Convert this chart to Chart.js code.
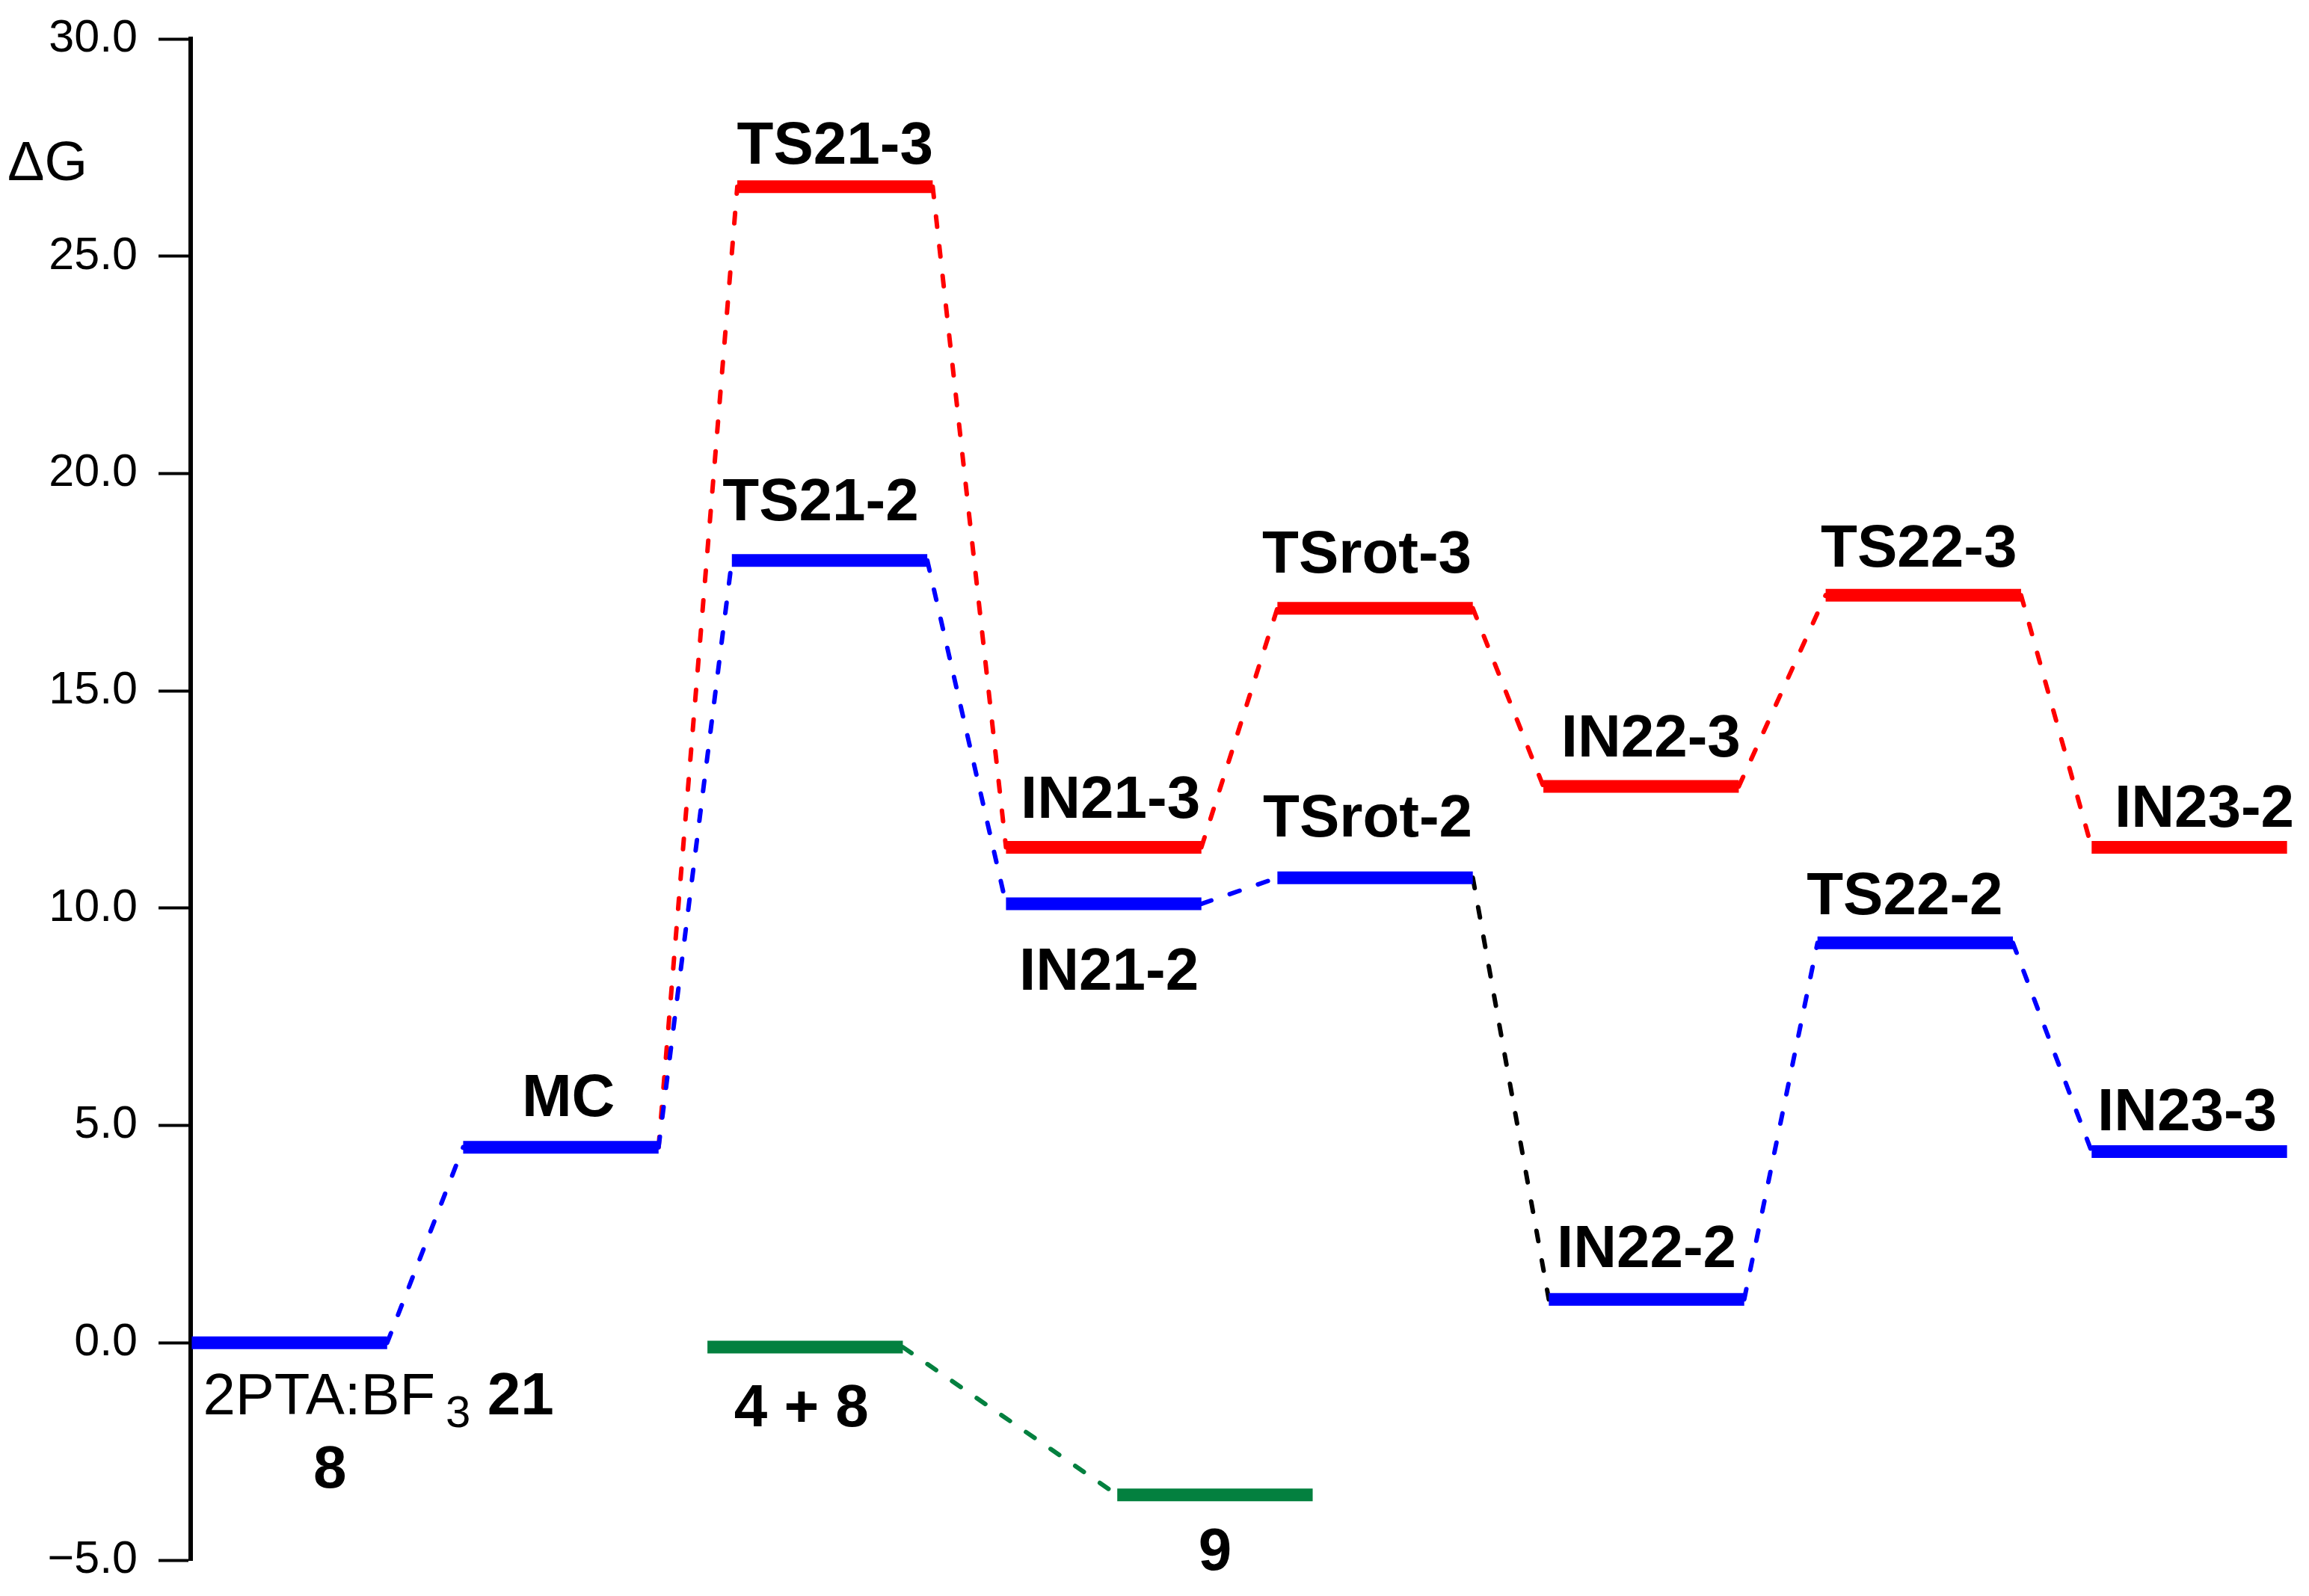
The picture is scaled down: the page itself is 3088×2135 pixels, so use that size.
<!DOCTYPE html>
<html>
<head>
<meta charset="utf-8">
<title>Perfil de energía libre</title>
<script src="https://cdn.jsdelivr.net/npm/chart.js@4.4.1/dist/chart.umd.min.js"></script>
<style>
  html, body { margin: 0; padding: 0; background: #fff; overflow: hidden; }
  #wrap { width: 3088px; height: 2135px; position: relative; }
</style>
</head>
<body>
<div id="wrap"><canvas id="profile"></canvas></div>
<script>
const levelNames  = ['2PTA:BF3 21', 'MC', '4 + 8', 'TS21-3', 'TS21-2', 'IN21-3', 'IN21-2', '9',
                     'TSrot-3', 'TSrot-2', 'IN22-3', 'IN22-2', 'TS22-3', 'TS22-2', 'IN23-2', 'IN23-3'];
const levelStep   = [0, 1, 1.9, 2.01, 1.99, 3, 3, 3.41, 4, 4, 4.98, 5, 6.02, 5.99, 7, 7];
const levelEnergy = [0.0, 4.5, -0.1, 26.6, 18.0, 11.4, 10.1, -3.5, 16.9, 10.7, 12.8, 1.0, 17.2, 9.2, 11.4, 4.4];

// Caminos de reacción (conexiones punteadas)
const bluePath  = ['2PTA:BF3 21', 'MC', 'TS21-2', 'IN21-2', 'TSrot-2'];
const blackPath = ['TSrot-2', 'IN22-2'];
const bluePath2 = ['IN22-2', 'TS22-2', 'IN23-3'];
const redPath   = ['MC', 'TS21-3', 'IN21-3', 'TSrot-3', 'IN22-3', 'TS22-3', 'IN23-2'];
const greenPath = ['4 + 8', '9'];

// Eje Y
const yTicks = [-5, 0, 5, 10, 15, 20, 25, 30];
const yTitle = 'ΔG';

// Etiqueta del punto de partida
const startLabel = ['2PTA:BF', '3', ' 21'];
const startLabel2 = '8';

// Colores
const BLUE = '#0000ff';
const RED = '#ff0000';
const GREEN = '#03803f';
const BLACK = '#000000';
const FONT = '"Liberation Sans", Arial, Helvetica, sans-serif';
const HALF = 0.36;   // media anchura de cada nivel

// Posición de cada etiqueta respecto al centro del nivel (px)
const labelOffset = {
    'MC': [10, -71], 'TS21-3': [0, -60], 'TS21-2': [-12, -83],
    'IN21-3': [9, -68], 'IN21-2': [7, 86], '4 + 8': [-5, 77], '9': [0, 71],
    'TSrot-3': [-11, -77], 'TSrot-2': [-10, -84], 'IN22-3': [13, -69], 'IN22-2': [0, -72],
    'TS22-3': [-6, -67], 'TS22-2': [-14, -67], 'IN23-2': [20, -56], 'IN23-3': [-3, -57]
};

function levelColor(name) {
    if (greenPath.includes(name)) return GREEN;
    if (redPath.includes(name) && name !== 'MC') return RED;
    return BLUE;
}

function idx(name) { return levelNames.indexOf(name); }

// Barras horizontales de cada nivel
const barSets = levelNames.map((name, i) => ({
    label: name,
    data: [
        { x: levelStep[i] - HALF, y: levelEnergy[i] },
        { x: levelStep[i] + HALF, y: levelEnergy[i] }
    ],
    borderColor: levelColor(name),
    borderWidth: 17,
    pointRadius: 0,
    order: 0,
    clip: false
}));

// Líneas punteadas entre niveles consecutivos
function pathSets(path, color) {
    const sets = [];
    for (let k = 0; k < path.length - 1; k++) {
        const a = idx(path[k]);
        const b = idx(path[k + 1]);
        sets.push({
            label: path[k] + ' → ' + path[k + 1],
            data: [
                { x: levelStep[a] + HALF, y: levelEnergy[a] },
                { x: levelStep[b] - HALF, y: levelEnergy[b] }
            ],
            borderColor: color,
            borderWidth: 6,
            borderDash: [14, 26],
            borderCapStyle: 'round',
            pointRadius: 0,
            order: 1,
            clip: false
        });
    }
    return sets;
}

const linkSets = [].concat(
    pathSets(bluePath, BLUE),
    pathSets(blackPath, BLACK),
    pathSets(bluePath2, BLUE),
    pathSets(redPath, RED),
    pathSets(greenPath, GREEN)
);

// Plugin para dibujar los nombres de los niveles
const levelLabels = {
    id: 'levelLabels',
    afterDatasetsDraw(chart) {
        const { ctx, scales: { x, y } } = chart;
        ctx.save();
        ctx.fillStyle = '#000';
        ctx.textBaseline = 'alphabetic';

        levelNames.forEach((name, i) => {
            const cx = x.getPixelForValue(levelStep[i]);
            const cy = y.getPixelForValue(levelEnergy[i]);
            if (i === 0) {
                // 2PTA:BF3 21 con subíndice, y "8" debajo
                let px = x.getPixelForValue(levelStep[i] - HALF) + 15;
                const base = cy + 96;
                ctx.textAlign = 'left';
                ctx.font = '78px ' + FONT;
                ctx.fillText(startLabel[0], px, base);
                px += ctx.measureText(startLabel[0]).width + 14;
                ctx.font = '60px ' + FONT;
                ctx.fillText(startLabel[1], px, base + 17);
                px += ctx.measureText(startLabel[1]).width;
                ctx.font = 'bold 80px ' + FONT;
                ctx.fillText(startLabel[2], px, base);
                ctx.textAlign = 'center';
                ctx.fillText(startLabel2, cx + 54, cy + 194);
                return;
            }
            const off = labelOffset[name];
            ctx.font = 'bold 80px ' + FONT;
            ctx.textAlign = 'center';
            ctx.fillText(name, cx + off[0], cy + off[1] + 29);
        });

        // Título del eje Y
        ctx.font = '74px ' + FONT;
        ctx.textAlign = 'left';
        ctx.fillText(yTitle, 10, y.getPixelForValue(26.75));
        ctx.restore();
    }
};

document.addEventListener('DOMContentLoaded', function() {
    const ctx = document.getElementById('profile').getContext('2d');
    new Chart(ctx, {
        type: 'line',
        data: { datasets: linkSets.concat(barSets) },
        options: {
            responsive: true,
            maintainAspectRatio: false,
            animation: false,
            devicePixelRatio: 1,
            layout: { padding: { top: 52, bottom: 48, left: 0, right: 25 } },
            plugins: {
                legend: { display: false },
                tooltip: { enabled: false }
            },
            scales: {
                x: {
                    type: 'linear',
                    display: false,
                    min: -0.364,
                    max: 7.372
                },
                y: {
                    type: 'linear',
                    min: yTicks[0],
                    max: yTicks[yTicks.length - 1],
                    afterBuildTicks: s => { s.ticks = yTicks.map(v => ({ value: v })); },
                    afterFit: s => {
                        // ancho fijo del eje y sin reservar espacio extra arriba/abajo
                        s.width = 255;
                        s.paddingTop = 0;
                        s.paddingBottom = 0;
                    },
                    border: { display: true, color: '#000', width: 6 },
                    grid: {
                        display: true,
                        drawOnChartArea: false,
                        drawTicks: true,
                        tickLength: 43,
                        tickWidth: 4,
                        tickColor: '#000',
                        color: '#000'
                    },
                    ticks: {
                        color: '#000',
                        padding: 28,
                        font: { family: FONT, size: 61 },
                        callback: v => (v < 0 ? '\u2212' : '') + Math.abs(v).toFixed(1)
                    }
                }
            }
        },
        plugins: [levelLabels]
    });
});
</script>
</body>
</html>
